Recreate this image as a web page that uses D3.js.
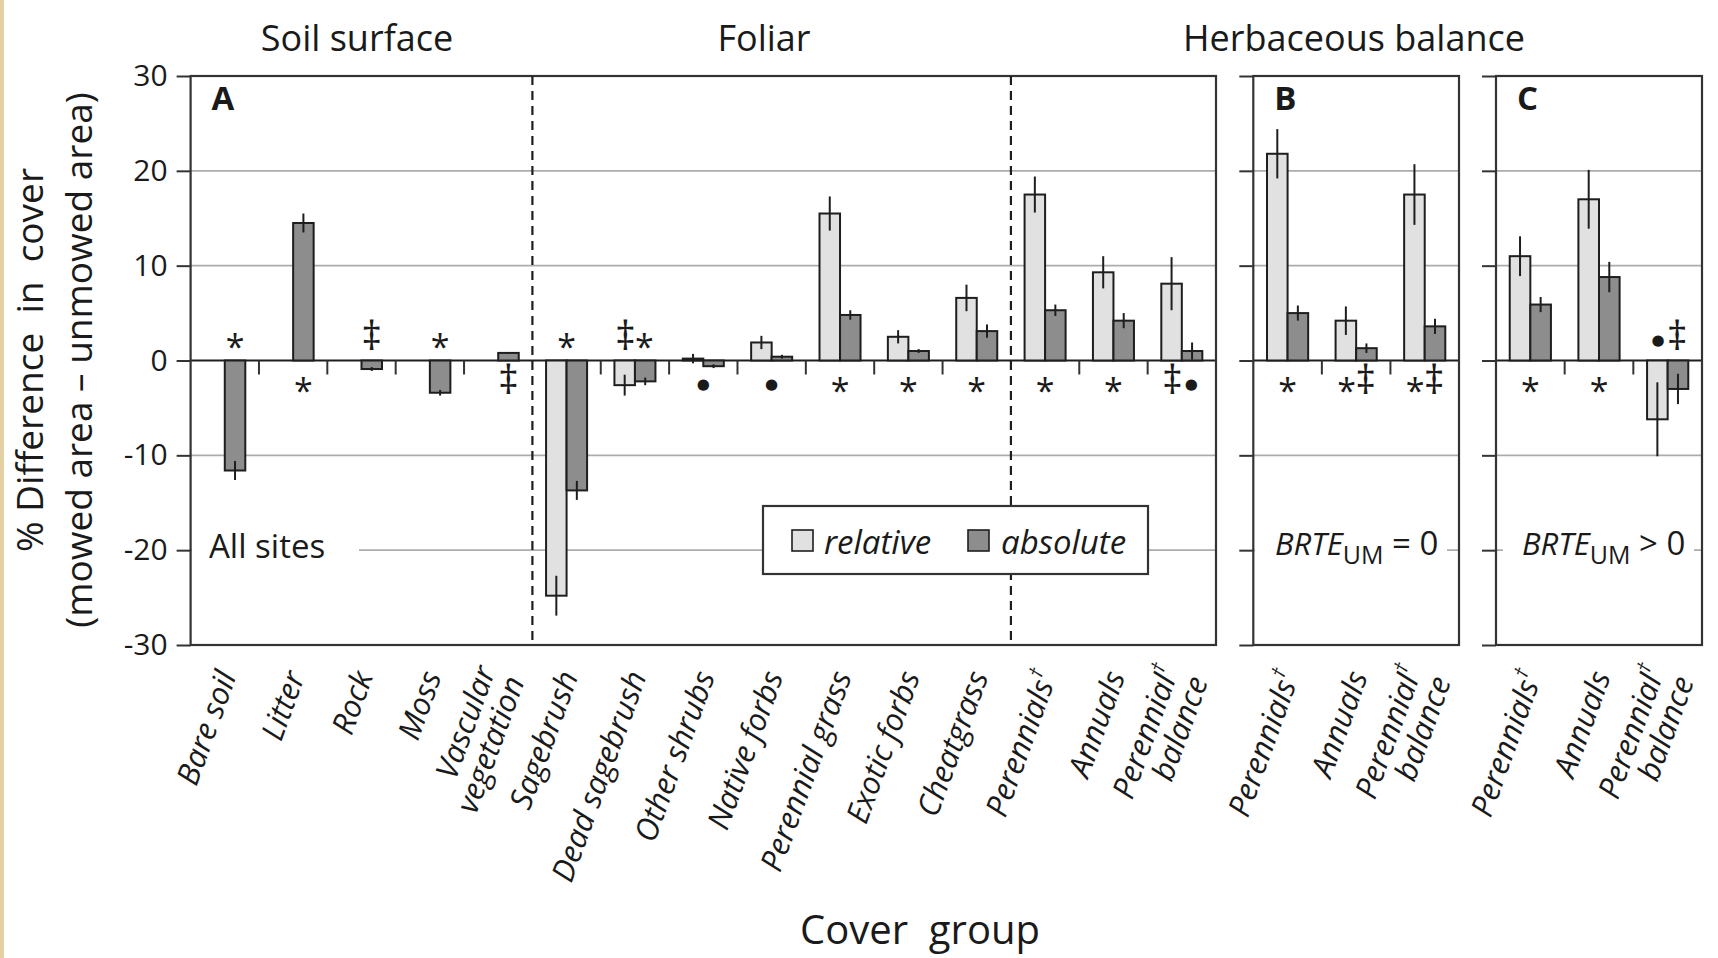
<!DOCTYPE html>
<html>
<head>
<meta charset="utf-8">
<script src="https://cdn.jsdelivr.net/npm/d3@7"></script>
<style>
  html, body { margin: 0; padding: 0; background: #ffffff; }
  svg text { font-family: "Open Sans", "Noto Sans", sans-serif; fill: #1a1a1a; }
</style>
</head>
<body>
<svg id="chart" width="1718" height="958"></svg>
<script>
// ---------- data ----------
// Panel A: all sites
const catsA = ["Bare soil", "Litter", "Rock", "Moss", "Vascular|vegetation",
  "Sagebrush", "Dead sagebrush", "Other shrubs", "Native forbs", "Perennial grass",
  "Exotic forbs", "Cheatgrass", "Perennials†", "Annuals", "Perennial†|balance"];
const relA    = [null, null, null, null, null, -24.8, -2.6, 0.2, 1.9, 15.5, 2.5, 6.6, 17.5, 9.3, 8.1];
const relErrA = [null, null, null, null, null, 2.1, 1.1, 0.5, 0.7, 1.8, 0.7, 1.4, 1.9, 1.7, 2.8];
const absA    = [-11.6, 14.5, -0.9, -3.4, 0.8, -13.7, -2.2, -0.6, 0.4, 4.8, 1.0, 3.1, 5.3, 4.2, 1.0];
const absErrA = [1.0, 1.0, 0.2, 0.3, 0.1, 1.0, 0.4, 0.2, 0.2, 0.5, 0.2, 0.7, 0.6, 0.8, 0.9];
const sigA    = ["*", "*", "‡", "*", "‡", "*", "‡*", "●", "●", "*", "*", "*", "*", "*", "‡●"];

// Panel B: sites without cheatgrass in unmowed area
const catsB = ["Perennials†", "Annuals", "Perennial†|balance"];
const relB    = [21.8, 4.2, 17.5];
const relErrB = [2.6, 1.5, 3.2];
const absB    = [5.0, 1.3, 3.6];
const absErrB = [0.8, 0.5, 0.8];
const sigB    = ["*", "*‡", "*‡"];

// Panel C: sites with cheatgrass in unmowed area
const catsC = ["Perennials†", "Annuals", "Perennial†|balance"];
const relC    = [11.0, 17.0, -6.2];
const relErrC = [2.1, 3.1, 3.9];
const absC    = [5.9, 8.8, -3.0];
const absErrC = [0.8, 1.6, 1.6];
const sigC    = ["*", "*", "●‡"];

const yTicks = [-30, -20, -10, 0, 10, 20, 30];
const gridTicks = [-20, -10, 10, 20];
const sectionTitles = ["Soil surface", "Foliar", "Herbaceous balance"];
const seriesNames = ["relative", "absolute"];

// ---------- layout ----------
const svg = d3.select("#chart");
const plotTop = 76, plotBottom = 645;
const y = d3.scaleLinear().domain([-30, 30]).range([plotBottom, plotTop]);
const fillRel = "#e1e1e1", fillAbs = "#8d8d8d", ink = "#1e1e1e", frame = "#333333";

// narrow paper edge on the left
svg.append("rect").attr("x", 0).attr("y", 0).attr("width", 4).attr("height", 958).attr("fill", "#e3d0a2");

const panels = [
  { id: "A", cats: catsA, rel: relA, relErr: relErrA, abs: absA, absErr: absErrA, sig: sigA, x0: 190.6, x1: 1216, labels: true },
  { id: "B", cats: catsB, rel: relB, relErr: relErrB, abs: absB, absErr: absErrB, sig: sigB, x0: 1253.3, x1: 1459, labels: false },
  { id: "C", cats: catsC, rel: relC, relErr: relErrC, abs: absC, absErr: absErrC, sig: sigC, x0: 1496, x1: 1702, labels: false }
];

// marker glyph settings: font, size and baseline offset from the glyph centre
const glyph = {
  "*": { font: "Open Sans", size: 34, off: 19 },
  "‡": { font: "Open Sans", size: 40, off: 10 },
  "●": { font: "DejaVu Sans", size: 15, off: 5 }
};

panels.forEach(p => {
  const x = d3.scaleBand().domain(p.cats.map((c, i) => i)).range([p.x0, p.x1]).padding(0);
  const bw = x.bandwidth();
  const barW = bw * 0.3;
  const g = svg.append("g").attr("class", "panel-" + p.id);
  p.xScale = x;

  // horizontal gridlines
  g.selectAll("line.grid").data(gridTicks).join("line")
    .attr("class", "grid")
    .attr("x1", p.x0).attr("x2", p.x1)
    .attr("y1", d => y(d)).attr("y2", d => y(d))
    .attr("stroke", "#acacac").attr("stroke-width", 1.6);

  // y axis ticks (labels only on the first panel)
  const axis = d3.axisLeft(y).tickValues(yTicks).tickSize(14).tickPadding(9)
    .tickFormat(p.labels ? (d => String(d)) : () => "");
  const ag = g.append("g").attr("transform", `translate(${p.x0},0)`).call(axis);
  ag.select(".domain").remove();
  ag.selectAll(".tick line").attr("stroke", frame).attr("stroke-width", 2);
  ag.selectAll(".tick text").attr("font-size", 30).attr("fill", "#1a1a1a")
    .style("font-family", "'Open Sans', sans-serif");

  // zero line
  g.append("line").attr("x1", p.x0).attr("x2", p.x1)
    .attr("y1", y(0)).attr("y2", y(0)).attr("stroke", ink).attr("stroke-width", 2);

  p.g = g; p.bw = bw; p.barW = barW;
});

// dashed section separators inside panel A
const pA = panels[0];
const sepIdx = [5, 12];
svg.append("g").selectAll("line").data(sepIdx).join("line")
  .attr("x1", d => pA.xScale(d)).attr("x2", d => pA.xScale(d))
  .attr("y1", plotTop).attr("y2", plotBottom)
  .attr("stroke", ink).attr("stroke-width", 2.2).attr("stroke-dasharray", "9,6");

panels.forEach(p => {
  const x = p.xScale, g = p.g, bw = p.bw, barW = p.barW;
  const idx = p.cats.map((c, i) => i);
  const cx = i => x(i) + bw / 2;

  // category boundary ticks below the zero line (separators replace two of them)
  const bounds = idx.slice(1).filter(i => !(p.id === "A" && sepIdx.includes(i)));
  g.selectAll("line.ctick").data(bounds).join("line").attr("class", "ctick")
    .attr("x1", i => x(i)).attr("x2", i => x(i))
    .attr("y1", y(0)).attr("y2", y(0) + 14)
    .attr("stroke", frame).attr("stroke-width", 2);

  // bars
  const relIdx = idx.filter(i => p.rel[i] !== null);
  g.selectAll("rect.rel").data(relIdx).join("rect").attr("class", "rel")
    .attr("x", i => cx(i) - barW).attr("width", barW)
    .attr("y", i => y(Math.max(0, p.rel[i])))
    .attr("height", i => Math.abs(y(p.rel[i]) - y(0)))
    .attr("fill", fillRel).attr("stroke", ink).attr("stroke-width", 2);
  g.selectAll("rect.abs").data(idx).join("rect").attr("class", "abs")
    .attr("x", i => cx(i)).attr("width", barW)
    .attr("y", i => y(Math.max(0, p.abs[i])))
    .attr("height", i => Math.abs(y(p.abs[i]) - y(0)))
    .attr("fill", fillAbs).attr("stroke", ink).attr("stroke-width", 2);

  // error bars
  g.selectAll("line.erel").data(relIdx).join("line").attr("class", "erel")
    .attr("x1", i => cx(i) - barW / 2).attr("x2", i => cx(i) - barW / 2)
    .attr("y1", i => y(p.rel[i] + p.relErr[i])).attr("y2", i => y(p.rel[i] - p.relErr[i]))
    .attr("stroke", ink).attr("stroke-width", 2);
  g.selectAll("line.eabs").data(idx).join("line").attr("class", "eabs")
    .attr("x1", i => cx(i) + barW / 2).attr("x2", i => cx(i) + barW / 2)
    .attr("y1", i => y(p.abs[i] + p.absErr[i])).attr("y2", i => y(p.abs[i] - p.absErr[i]))
    .attr("stroke", ink).attr("stroke-width", 2);

  // significance markers: placed on the side opposite the bars
  idx.forEach(i => {
    const vals = [p.rel[i], p.abs[i]].filter(v => v !== null);
    const above = vals.every(v => v < 0);
    const mx = p.rel[i] === null ? cx(i) + barW / 2 : cx(i);
    const my = above ? y(0) - 21 : y(0) + 23;
    const chars = Array.from(p.sig[i]);
    const step = 19;
    chars.forEach((ch, k) => {
      const gs = glyph[ch];
      g.append("text")
        .attr("x", mx + (k - (chars.length - 1) / 2) * step)
        .attr("y", my + gs.off)
        .attr("text-anchor", "middle")
        .attr("font-size", gs.size)
        .style("font-family", `'${gs.font}', sans-serif`)
        .text(ch);
    });
  });

  // frame
  g.append("rect").attr("x", p.x0).attr("y", plotTop)
    .attr("width", p.x1 - p.x0).attr("height", plotBottom - plotTop)
    .attr("fill", "none").attr("stroke", frame).attr("stroke-width", 2.2);

  // panel letter
  g.append("text").attr("x", p.x0 + 21).attr("y", 110)
    .attr("font-size", 33).attr("font-weight", 700).text(p.id);

  // rotated category labels
  const lh = 31;
  idx.forEach(i => {
    const lines = p.cats[i].split("|");
    const lg = g.append("g").attr("transform", `translate(${cx(i) + 12},${plotBottom + 31}) rotate(-70)`);
    lines.forEach((ln, k) => {
      const t = lg.append("text").attr("text-anchor", "end")
        .attr("y", (k - (lines.length - 1) / 2) * lh)
        .attr("font-size", 31).attr("font-style", "italic");
      if (ln.endsWith("†")) {
        t.append("tspan").text(ln.slice(0, -1));
        t.append("tspan").attr("font-size", 19).attr("dy", -14).text("†");
      } else {
        t.text(ln);
      }
    });
  });
});

// "All sites" note with a white backing over the gridline
svg.append("rect").attr("x", 192).attr("y", 538).attr("width", 167).attr("height", 24).attr("fill", "#fff");
svg.append("text").attr("x", 209).attr("y", 558).attr("font-size", 33).text("All sites");

// BRTE_UM notes for panels B and C
[
  { x: 1275, op: " = 0", bg: [1255, 1447] },
  { x: 1522, op: " > 0", bg: [1503, 1694] }
].forEach(n => {
  svg.append("rect").attr("x", n.bg[0]).attr("y", 535).attr("width", n.bg[1] - n.bg[0]).attr("height", 30).attr("fill", "#fff");
  const t = svg.append("text").attr("x", n.x).attr("y", 555).attr("font-size", 31);
  t.append("tspan").attr("font-style", "italic").text("BRTE");
  t.append("tspan").attr("font-size", 25).attr("dy", 9).text("UM");
  t.append("tspan").attr("dy", -9).attr("font-size", 33).style("white-space", "pre").text(n.op);
});

// legend
const lg = svg.append("g");
lg.append("rect").attr("x", 763).attr("y", 506).attr("width", 385).attr("height", 68)
  .attr("fill", "#fff").attr("stroke", frame).attr("stroke-width", 2.2);
const legendItems = [
  { name: seriesNames[0], fill: fillRel, sx: 792, tx: 824 },
  { name: seriesNames[1], fill: fillAbs, sx: 968, tx: 1001 }
];
legendItems.forEach(d => {
  lg.append("rect").attr("x", d.sx).attr("y", 530).attr("width", 21).attr("height", 21)
    .attr("fill", d.fill).attr("stroke", ink).attr("stroke-width", 1.6);
  lg.append("text").attr("x", d.tx).attr("y", 554).attr("font-size", 33)
    .attr("font-style", "italic").text(d.name);
});

// section titles
const titleX = [357, 764, 1354];
sectionTitles.forEach((s, i) => {
  svg.append("text").attr("x", titleX[i]).attr("y", 51).attr("text-anchor", "middle")
    .attr("font-size", 36).text(s);
});

// axis titles
const yt = svg.append("g").attr("transform", "translate(0,360)");
yt.append("text").attr("transform", "translate(43,0) rotate(-90)").attr("text-anchor", "middle")
  .attr("font-size", 37).style("white-space", "pre").text("% Difference  in  cover");
yt.append("text").attr("transform", "translate(92,0) rotate(-90)").attr("text-anchor", "middle")
  .attr("font-size", 37).style("white-space", "pre").text("(mowed area – unmowed area)");

svg.append("text").attr("x", 920).attr("y", 944).attr("text-anchor", "middle")
  .attr("font-size", 40).style("white-space", "pre").text("Cover  group");
</script>
</body>
</html>
